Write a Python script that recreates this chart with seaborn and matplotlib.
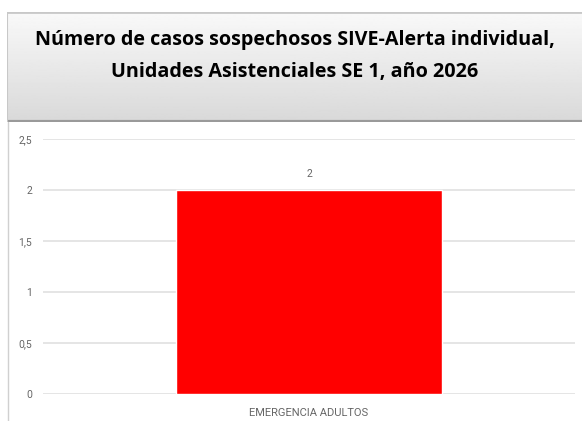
import numpy as np
import pandas as pd
import matplotlib
matplotlib.use('Agg')
import matplotlib.pyplot as plt
import seaborn as sns

# data
categorias = ['EMERGENCIA ADULTOS']
casos = [2]
yticks = [0, 0.5, 1, 1.5, 2, 2.5]
ytick_labels = ['0', '0,5', '1', '1,5', '2', '2,5']
titulo = 'Número de casos sospechosos SIVE-Alerta individual,\nUnidades Asistenciales SE 1, año 2026'

sns.set_theme(style='white')
plt.rcParams['font.family'] = ['Roboto', 'DejaVu Sans']

W, H = 582, 421
fig = plt.figure(figsize=(W / 100, H / 100), dpi=100)
fig.patch.set_facecolor('white')

# title box with gradient
tax = fig.add_axes([7 / W, 1 - 122 / H, 575 / W, 110 / H])
grad = np.linspace(0.975, 0.85, 100).reshape(-1, 1)
tax.imshow(grad, aspect='auto', cmap='gray', vmin=0, vmax=1, extent=[0, 1, 0, 1])
tax.set_xlim(0, 1)
tax.set_ylim(0, 1)
tax.set_xticks([])
tax.set_yticks([])
for s in tax.spines.values():
    s.set_visible(False)
tax.axhline(1, color='#c8c8c8', lw=2)
tax.axhline(0, color='#9a9a9a', lw=3)
tax.axvline(0, color='#c8c8c8', lw=1.5)
tax.text(0.5, 0.6, titulo, ha='center', va='center', fontsize=14.2,
         fontweight='bold', family=['Open Sans', 'DejaVu Sans'],
         linespacing=1.78, color='black')

# left border of chart area
fig.add_artist(plt.Line2D([7.5 / W, 7.5 / W], [0, 1 - 122 / H],
                          color='#d0d0d0', lw=1))

ax = fig.add_axes([43 / W, 1 - 394 / H, 532 / W, 255 / H])
df = pd.DataFrame({'cat': categorias, 'casos': casos})
sns.barplot(data=df, x='cat', y='casos', color='#ff0000', width=0.5,
            saturation=1, ax=ax, zorder=3)
ax.set_xlim(-0.5, 0.5)
ax.set_ylim(0, 2.5)
ax.set_yticks(yticks)
ax.set_yticklabels(ytick_labels)
ax.grid(axis='y', color='#e0e0e0', lw=1.2, zorder=0)
ax.set_axisbelow(True)
for s in ax.spines.values():
    s.set_visible(False)
ax.tick_params(axis='y', length=0, pad=8, labelsize=7.5, labelcolor='#666666')
ax.tick_params(axis='x', length=0, pad=10, labelsize=8, labelcolor='#666666')
ax.set_xlabel('')
ax.set_ylabel('')
for c in ax.containers:
    ax.bar_label(c, labels=[str(v) for v in casos], padding=8, fontsize=7.5,
                 color='#666666')

fig.savefig('out.png', dpi=100)
